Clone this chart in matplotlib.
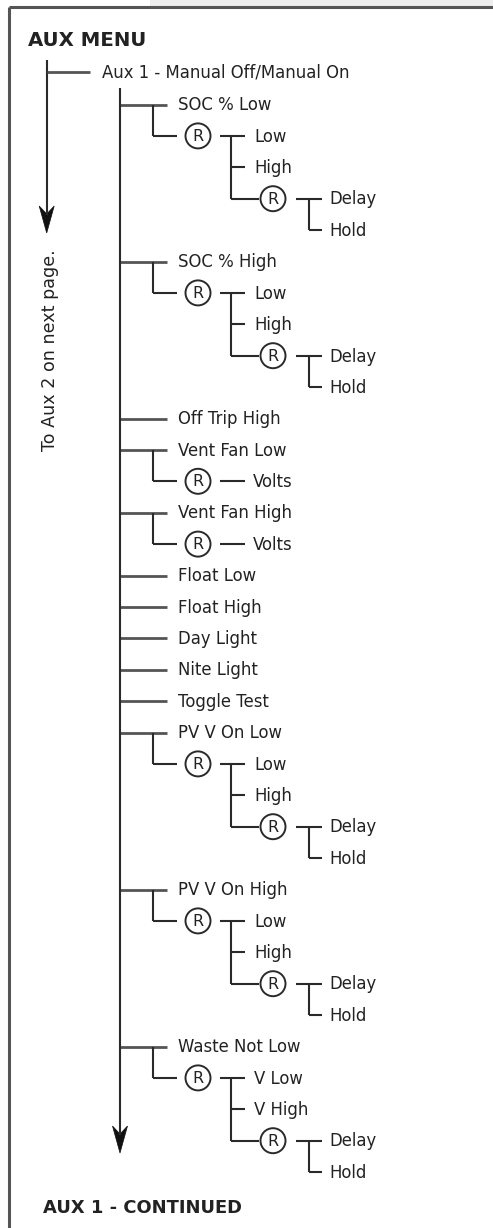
import matplotlib
matplotlib.use("Agg")
import matplotlib.pyplot as plt
from matplotlib.patches import Circle, Polygon, Rectangle

# ---------------- data ----------------
title_top = "AUX MENU"
title_bottom = "AUX 1 - CONTINUED"
side_note = "To Aux 2 on next page."
root_item = "Aux 1 - Manual Off/Manual On"
menu_items = ["SOC % Low", "SOC % High", "Off Trip High", "Vent Fan Low",
              "Vent Fan High", "Float Low", "Float High", "Day Light",
              "Nite Light", "Toggle Test", "PV V On Low", "PV V On High",
              "Waste Not Low"]
menu_kinds = ["range", "range", "none", "volts", "volts", "none", "none",
              "none", "none", "none", "range", "range", "range"]
range_labels = ["Low", "High"]
waste_labels = ["V Low", "V High"]
timer_labels = ["Delay", "Hold"]
volts_label = "Volts"
reset_symbol = "R"

# ---------------- style / layout ----------------
W, H = 493, 1228
FONT = "DejaVu Sans"
FS = 11.9
TXT = "#222222"
LC = "#2a2a2a"
LW = 1.5
DY_TXT = -1.2

fig = plt.figure(figsize=(W / 100, H / 100), dpi=100)
ax = fig.add_axes([0, 0, 1, 1])
ax.set_xlim(0, W)
ax.set_ylim(H, 0)
ax.axis("off")

def line(x0, y0, x1, y1, color=LC, lw=LW):
    ax.plot([x0, x1], [y0, y1], color=color, lw=lw, solid_capstyle="butt")

def label(x, y, s, size=FS, weight="normal"):
    ax.text(x, y + DY_TXT, s, fontsize=size, fontweight=weight, family=FONT,
            color=TXT, va="center_baseline", ha="left")

def reset(x, y):
    ax.add_patch(Circle((x, y), 12.5, fill=False, ec=LC, lw=1.4))
    ax.text(x + 0.3, y + 0.5, reset_symbol, fontsize=11.5, family=FONT,
            color=TXT, ha="center", va="center")

def arrow_head(x, ytip):
    ax.add_patch(Polygon([(x, ytip), (x - 7.5, ytip - 27), (x, ytip - 19),
                          (x + 7.5, ytip - 27)], closed=True, fc="#111",
                         ec="#111", lw=0.5))

# frame
ax.add_patch(Rectangle((150, 0), W - 150, 6, fc="#ededed", ec="none"))
line(9, 7, W, 7, color="#555", lw=2.2)
line(9, 7, 9, H, color="#555", lw=2.2)

# titles
label(28, 40, title_top, size=14.2, weight="bold")
label(43, 1207, title_bottom, size=12.9, weight="bold")

# left arrow + side note
line(46.7, 60, 46.7, 215)
arrow_head(46.7, 233)
ax.text(50, 350, side_note, fontsize=12.6, family=FONT, color=TXT,
        rotation=90, ha="center", va="center")

# root item
y_root = 72
line(46.7, y_root, 90, y_root, color="#555", lw=2)
label(102, y_root, root_item)

# tree
y0, dy = 104.5, 31.4
row = 0
x_main = 120
for name, kind in zip(menu_items, menu_kinds):
    y = y0 + dy * row
    line(x_main, y, 167, y, color="#555", lw=2)
    label(178, y, name)
    row += 1
    if kind in ("range", "volts"):
        yc = y0 + dy * row
        line(153, y, 153, yc)
        line(153, yc, 177, yc)
        reset(198, yc)
        if kind == "volts":
            line(220, yc, 245, yc)
            label(253, yc, volts_label)
            row += 1
        else:
            labs = waste_labels if name == "Waste Not Low" else range_labels
            y1 = yc + dy
            y2 = yc + 2 * dy
            y3 = yc + 3 * dy
            line(220, yc, 245, yc)
            line(231, yc, 231, y2)
            line(231, y1, 245, y1)
            line(231, y2, 259, y2)
            label(254, yc, labs[0])
            label(254, y1, labs[1])
            reset(273, y2)
            line(296, y2, 322, y2)
            line(309, y2, 309, y3)
            line(309, y3, 322, y3)
            label(329, y2, timer_labels[0])
            label(329, y3, timer_labels[1])
            row += 4

# main vertical with arrow
line(x_main, 88, x_main, 1135)
arrow_head(x_main, 1153)

fig.savefig("out.png", dpi=100, facecolor="white")
